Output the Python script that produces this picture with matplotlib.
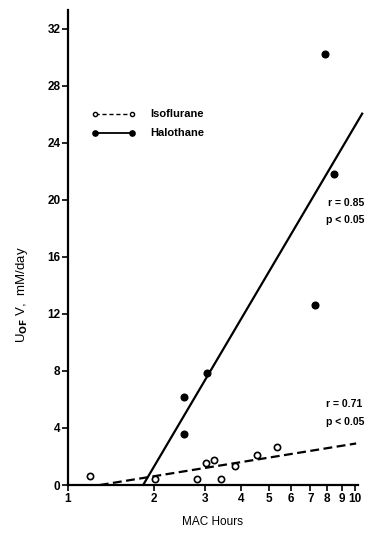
import numpy as np
import matplotlib
matplotlib.use("Agg")
from matplotlib import pyplot as plt

# open circles
iso_hours = [1.19, 2.01, 2.81, 3.02, 3.22, 3.41, 3.83, 4.54, 5.35]
iso_uofv = [0.63, 0.40, 0.40, 1.52, 1.75, 0.40, 1.33, 2.12, 2.68]
# filled circles
hal_hours = [7.86, 8.43, 7.26, 3.05, 2.53, 2.53]
hal_uofv = [30.25, 21.8, 12.6, 7.84, 6.2, 3.55]

# regression lines: y = a + b*log10(x), drawn over [x0, x1]
iso_fit = [-0.362, 3.26]
iso_span = [1.29, 10.1]
hal_fit = [-8.93, 34.1]
hal_span = [1.83, 10.6]

x_ticks = [1, 2, 3, 4, 5, 6, 7, 8, 9, 10]
y_ticks = [0, 4, 8, 12, 16, 20, 24, 28, 32]

plt.rcParams['font.family'] = ['Liberation Sans', 'DejaVu Sans']
plt.rcParams['font.weight'] = 'bold'

fig = plt.figure(figsize=(3.66, 5.37), dpi=100)
ax = fig.add_axes([68 / 366, 52 / 537, (358 - 68) / 366, (485 - 10) / 537])

ax.set_xscale('log')
ax.set_xlim(1, 10.25)
ax.set_ylim(0, 33.3)

# regression lines
xs = np.array(iso_span)
ax.plot(xs, iso_fit[0] + iso_fit[1] * np.log10(xs), color='black', lw=1.6,
        ls=(0, (4, 2)), clip_on=False)
xs = np.array(hal_span)
ax.plot(xs, hal_fit[0] + hal_fit[1] * np.log10(xs), color='black', lw=1.6,
        clip_on=False)

# points
ax.plot(iso_hours, iso_uofv, 'o', ms=4.5, mfc='white', mec='black', mew=1.2,
        clip_on=False, zorder=3)
ax.plot(hal_hours, hal_uofv, 'o', ms=4.8, color='black', clip_on=False, zorder=3)

# hand-drawn style legend
ax.plot([1.242, 1.671], [26.0, 26.0], color='black', lw=1.0, ls=(0, (3, 2)))
ax.plot([1.242, 1.671], [26.0, 26.0], 'o', ms=3, mfc='white', mec='black', mew=1.0)
ax.plot([1.242, 1.671], [24.7, 24.7], color='black', lw=1.3)
ax.plot([1.242, 1.671], [24.7, 24.7], 'o', ms=3.8, color='black')
ax.text(1.93, 26.0, 'Isoflurane', fontsize=8, va='center')
ax.text(1.93, 24.7, 'Halothane', fontsize=8, va='center')

# correlation notes, tucked against the right edge
ax.text(10.8, 19.8, 'r = 0.85', fontsize=7.5, va='center', ha='right', clip_on=False)
ax.text(10.8, 18.6, 'p < 0.05', fontsize=7.5, va='center', ha='right', clip_on=False)
ax.text(10.6, 5.65, 'r = 0.71', fontsize=7.5, va='center', ha='right', clip_on=False)
ax.text(10.8, 4.4, 'p < 0.05', fontsize=7.5, va='center', ha='right', clip_on=False)

ax.set_xticks(x_ticks)
ax.set_xticklabels([str(t) for t in x_ticks])
ax.xaxis.set_minor_locator(matplotlib.ticker.NullLocator())
ax.set_yticks(y_ticks)
ax.tick_params(axis='both', direction='out', length=4, width=1.2,
               labelsize=8.5, pad=1.5)

for s in ['top', 'right']:
    ax.spines[s].set_visible(False)
for s in ['left', 'bottom']:
    ax.spines[s].set_linewidth(1.6)

ax.set_xlabel('MAC Hours', fontsize=8.5, labelpad=8)
ax.set_ylabel(r'U$_{\mathbf{OF}}$ V,  mM/day', fontsize=9.5)
ax.yaxis.set_label_coords(-0.13, 0.4)

fig.savefig('out.png', dpi=100)
